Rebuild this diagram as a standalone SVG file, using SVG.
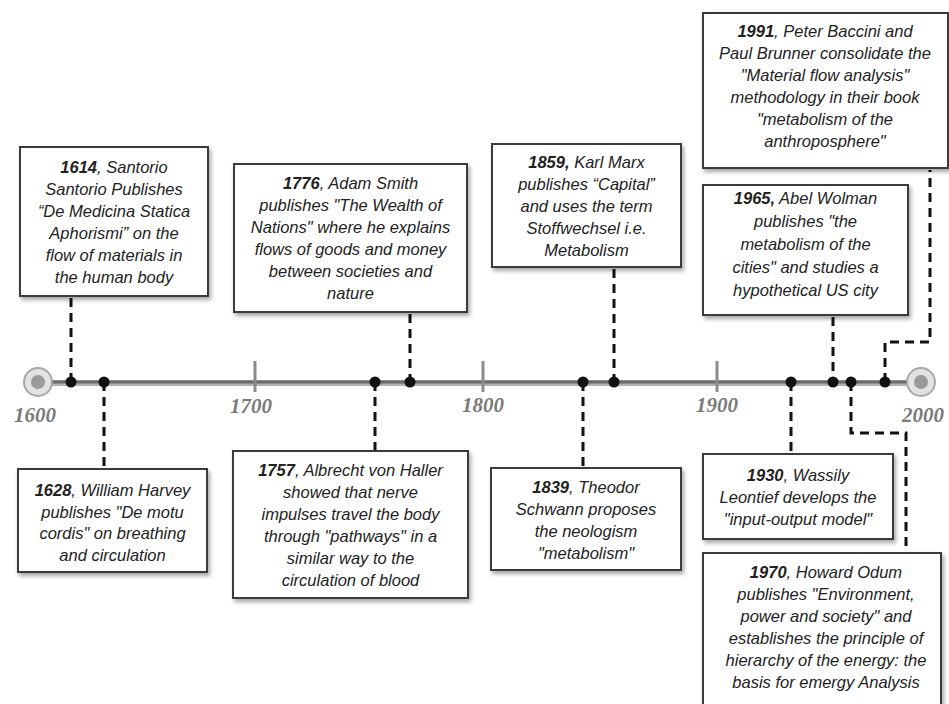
<svg xmlns="http://www.w3.org/2000/svg" width="949" height="704" viewBox="0 0 949 704">
<defs>
<filter id="sh" x="-10%" y="-10%" width="130%" height="130%">
<feDropShadow dx="2" dy="3" stdDeviation="2" flood-color="#000" flood-opacity="0.35"/>
</filter>
<style>
.box{fill:#fff;stroke:#3a3a3a;stroke-width:2;filter:url(#sh)}
.t{font-family:"Liberation Sans",Arial,sans-serif;font-style:italic;font-size:16.5px;fill:#222;text-anchor:middle}
.b{font-weight:bold}
.yr{font-family:"Liberation Serif","Times New Roman",serif;font-style:italic;font-weight:bold;font-size:21px;fill:#7a7a7a;text-anchor:middle}
.dash{fill:none;stroke:#111;stroke-width:3;stroke-dasharray:9 6}
.dot{fill:#111}
.tick{stroke:#8a8a8a;stroke-width:3}
</style>
</defs>
<rect width="949" height="704" fill="#fff"/>

<g id="axis">
<line x1="38" y1="383" x2="921" y2="383" stroke="#b0b0b0" stroke-width="6"/>
<line x1="38" y1="382" x2="921" y2="382" stroke="#6a6a6a" stroke-width="3"/>
<line class="tick" x1="255" y1="361" x2="255" y2="392"/>
<line class="tick" x1="483" y1="361" x2="483" y2="392"/>
<line class="tick" x1="717" y1="361" x2="717" y2="392"/>
<circle cx="38" cy="382" r="14" fill="#e2e2e2" stroke="#a8a8a8" stroke-width="2"/>
<circle cx="38" cy="382" r="7" fill="#9a9a9a"/>
<circle cx="921" cy="382" r="14" fill="#e2e2e2" stroke="#a8a8a8" stroke-width="2"/>
<circle cx="921" cy="382" r="7" fill="#9a9a9a"/>
<text class="yr" x="35" y="422">1600</text>
<text class="yr" x="251" y="413">1700</text>
<text class="yr" x="483" y="412">1800</text>
<text class="yr" x="717" y="412">1900</text>
<text class="yr" x="923" y="422">2000</text>
</g>

<g id="connectors">
<path class="dash" d="M71 298V382"/>
<path class="dash" d="M104 382V469"/>
<path class="dash" d="M375 382V451"/>
<path class="dash" d="M410 314V382"/>
<path class="dash" d="M583 382V468"/>
<path class="dash" d="M614 269V382"/>
<path class="dash" d="M791 382V454"/>
<path class="dash" d="M833 317V382"/>
<path class="dash" d="M851 382V433H906V553"/>
<path class="dash" d="M885 382V342H930V170"/>
<circle class="dot" cx="71" cy="382" r="5.5"/>
<circle class="dot" cx="104" cy="382" r="5.5"/>
<circle class="dot" cx="375" cy="382" r="5.5"/>
<circle class="dot" cx="410" cy="382" r="5.5"/>
<circle class="dot" cx="583" cy="382" r="5.5"/>
<circle class="dot" cx="614" cy="382" r="5.5"/>
<circle class="dot" cx="791" cy="382" r="5.5"/>
<circle class="dot" cx="833" cy="382" r="5.5"/>
<circle class="dot" cx="851" cy="382" r="5.5"/>
<circle class="dot" cx="885" cy="382" r="5.5"/>
</g>

<g id="e1614">
<rect class="box" x="20" y="147" width="188" height="149"/>
<text class="t" x="114" y="172.5"><tspan class="b">1614</tspan>, Santorio</text>
<text class="t" x="114" y="194.5">Santorio Publishes</text>
<text class="t" x="114" y="216.5">“De Medicina Statica</text>
<text class="t" x="114" y="238.5">Aphorismi” on the</text>
<text class="t" x="114" y="260.5">flow of materials in</text>
<text class="t" x="114" y="282.5">the human body</text>
</g>

<g id="e1628">
<rect class="box" x="18" y="469" width="189" height="103"/>
<text class="t" x="112.5" y="496"><tspan class="b">1628</tspan>, William Harvey</text>
<text class="t" x="112.5" y="517.5">publishes "De motu</text>
<text class="t" x="112.5" y="539">cordis" on breathing</text>
<text class="t" x="112.5" y="560.5">and circulation</text>
</g>

<g id="e1757">
<rect class="box" x="233" y="451" width="235" height="147"/>
<text class="t" x="350.5" y="475.5"><tspan class="b">1757</tspan>, Albrecht von Haller</text>
<text class="t" x="350.5" y="497.5">showed that nerve</text>
<text class="t" x="350.5" y="519.5">impulses travel the body</text>
<text class="t" x="350.5" y="541.5">through "pathways" in a</text>
<text class="t" x="350.5" y="563.5">similar way to the</text>
<text class="t" x="350.5" y="585.5">circulation of blood</text>
</g>

<g id="e1776">
<rect class="box" x="234" y="164" width="233" height="148"/>
<text class="t" x="350.5" y="189"><tspan class="b">1776</tspan>, Adam Smith</text>
<text class="t" x="350.5" y="211">publishes "The Wealth of</text>
<text class="t" x="350.5" y="233">Nations" where he explains</text>
<text class="t" x="350.5" y="255">flows of goods and money</text>
<text class="t" x="350.5" y="277">between societies and</text>
<text class="t" x="350.5" y="299">nature</text>
</g>

<g id="e1839">
<rect class="box" x="491" y="468" width="190" height="102"/>
<text class="t" x="586" y="492.5"><tspan class="b">1839</tspan>, Theodor</text>
<text class="t" x="586" y="514.5">Schwann proposes</text>
<text class="t" x="586" y="536.5">the neologism</text>
<text class="t" x="586" y="558.5">"metabolism"</text>
</g>

<g id="e1859">
<rect class="box" x="492" y="144" width="189" height="123"/>
<text class="t" x="586.5" y="167.5"><tspan class="b">1859,</tspan> Karl Marx</text>
<text class="t" x="586.5" y="189.5">publishes “Capital”</text>
<text class="t" x="586.5" y="211.5">and uses the term</text>
<text class="t" x="586.5" y="233.5">Stoffwechsel i.e.</text>
<text class="t" x="586.5" y="255.5">Metabolism</text>
</g>

<g id="e1930">
<rect class="box" x="703" y="454" width="190" height="85"/>
<text class="t" x="798" y="480.5"><tspan class="b">1930</tspan>, Wassily</text>
<text class="t" x="798" y="502.5">Leontief develops the</text>
<text class="t" x="798" y="524.5">"input-output model"</text>
</g>

<g id="e1965">
<rect class="box" x="703" y="185" width="205" height="130"/>
<text class="t" x="805.5" y="204"><tspan class="b">1965,</tspan> Abel Wolman</text>
<text class="t" x="805.5" y="227">publishes "the</text>
<text class="t" x="805.5" y="250">metabolism of the</text>
<text class="t" x="805.5" y="273">cities" and studies a</text>
<text class="t" x="805.5" y="296">hypothetical US city</text>
</g>

<g id="e1970">
<rect class="box" x="703" y="553" width="238" height="162"/>
<text class="t" x="826" y="578"><tspan class="b">1970</tspan>, Howard Odum</text>
<text class="t" x="826" y="600">publishes "Environment,</text>
<text class="t" x="826" y="622">power and society" and</text>
<text class="t" x="826" y="644">establishes the principle of</text>
<text class="t" x="826" y="666">hierarchy of the energy: the</text>
<text class="t" x="826" y="688">basis for emergy Analysis</text>
</g>

<g id="e1991">
<rect class="box" x="703" y="13" width="245" height="155"/>
<text class="t" x="825" y="37"><tspan class="b">1991</tspan>, Peter Baccini and</text>
<text class="t" x="825" y="59">Paul Brunner consolidate the</text>
<text class="t" x="825" y="81">"Material flow analysis"</text>
<text class="t" x="825" y="103">methodology in their book</text>
<text class="t" x="825" y="125">"metabolism of the</text>
<text class="t" x="825" y="147">anthroposphere"</text>
</g>
</svg>
